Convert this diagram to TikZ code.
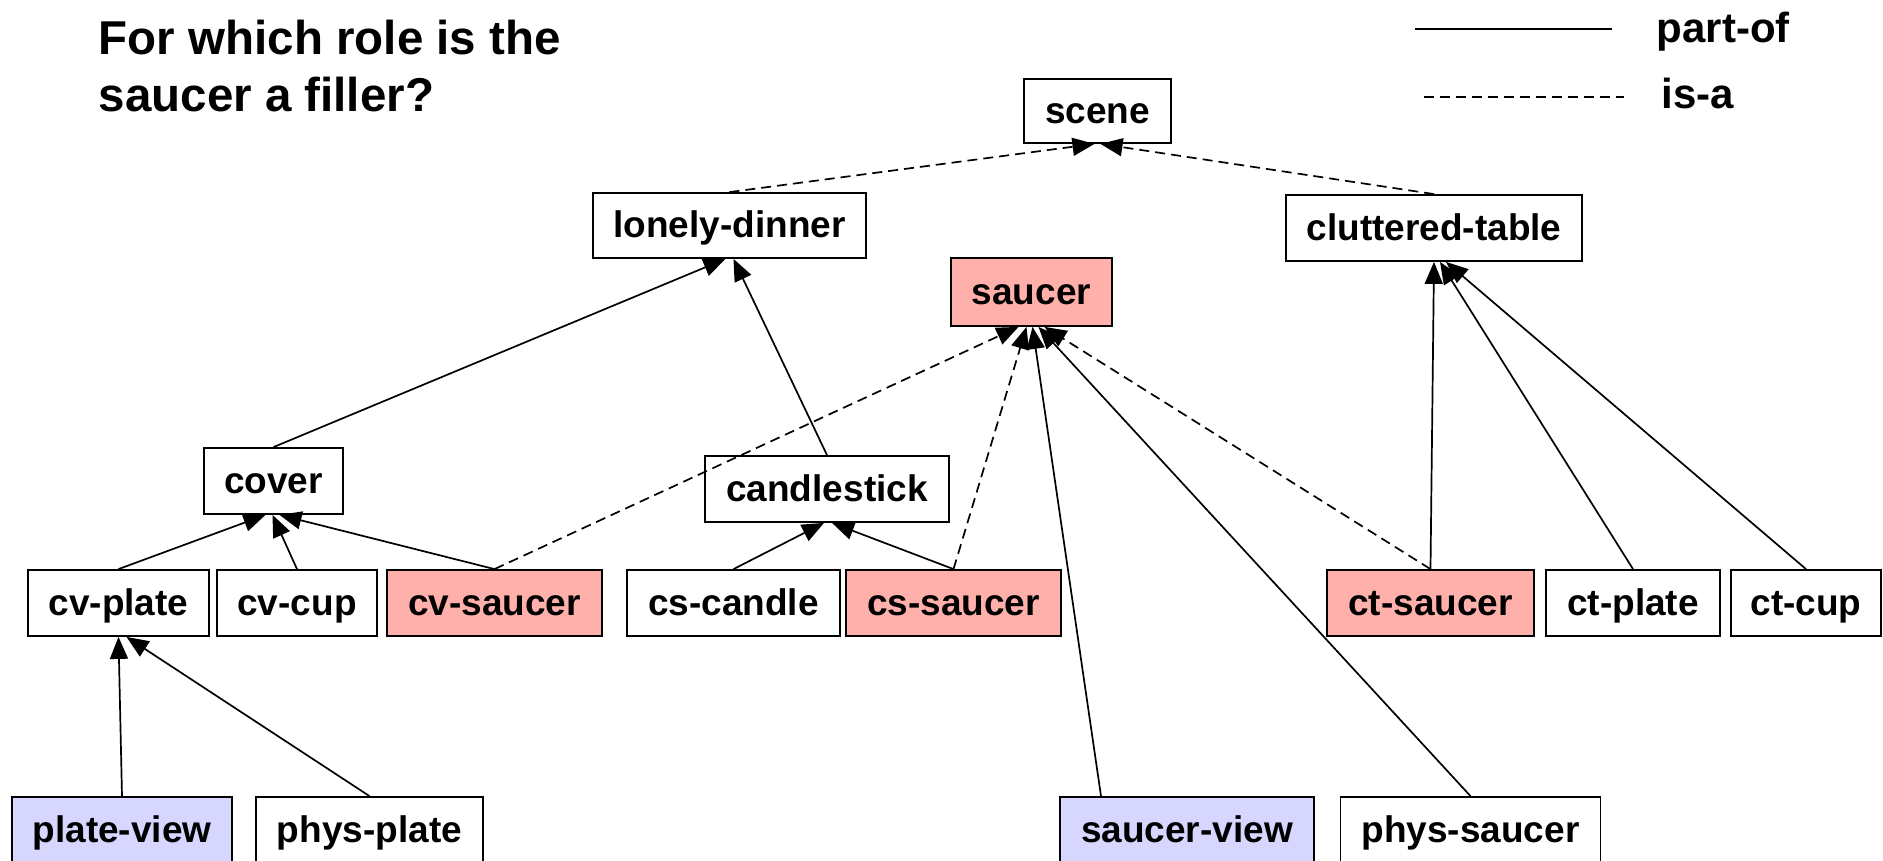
\documentclass[tikz,border=0pt]{standalone}
\usepackage{fontspec}
\setmainfont{Liberation Sans}
\usetikzlibrary{arrows.meta}
\definecolor{rolepink}{RGB}{255,176,170}
\definecolor{viewblue}{RGB}{214,214,255}

\begin{document}
\begin{tikzpicture}
  %[->,>=stealth',line width=1pt]
  [x=1pt,y=-1pt,->,>={Triangle[length=22pt,width=18pt]},line width=1.7pt,
   box/.style={draw,line width=1.8pt,inner sep=0pt,minimum height=66pt,text height=25pt,text depth=0pt,font=\fontsize{37}{44}\selectfont\bfseries},
   role/.style={box,fill=rolepink},
   view/.style={box,fill=viewblue},
   isa/.style={dash pattern=on 10pt off 6pt}]
  \useasboundingbox (0,0) rectangle (1883,861);

  \node[anchor=north west,inner sep=0pt,align=left,font=\fontsize{47.5}{57}\selectfont\bfseries] (ntitle) at (98,19) {For which role is the\\saucer a filler?};

  \coordinate (lpo1) at (1415,29);
  \coordinate (lpo2) at (1612,29);
  \coordinate (lisa1) at (1424,97);
  \coordinate (lisa2) at (1624,97);
  \draw[-,line width=2pt] (lpo1) -- (lpo2);
  \draw[-,isa] (lisa1) -- (lisa2);
  \node[anchor=base west,inner sep=0pt,font=\fontsize{42}{50}\selectfont\bfseries] (npo) at (1656,43) {part-of};
  \node[anchor=base west,inner sep=0pt,font=\fontsize{42}{50}\selectfont\bfseries] (nisa) at (1661,109) {is-a};

  \node[box,minimum width=147pt,minimum height=64pt] (nsc) at (1097.5,111) {scene};
  \node[box,minimum width=273pt,minimum height=65pt] (nld) at (729.5,225.5) {lonely-dinner};
  \node[box,minimum width=296pt] (nct) at (1434,228) {cluttered-table};
  \node[role,minimum width=161pt,minimum height=68pt] (nsau) at (1031.5,292) {saucer};
  \node[box,minimum width=139pt] (ncov) at (273.5,481) {cover};
  \node[box,minimum width=244pt] (ncst) at (827,489) {candlestick};

  \node[box,minimum width=181pt] (ncvp) at (118.5,603) {cv-plate};
  \node[box,minimum width=160pt] (ncvc) at (297,603) {cv-cup};
  \node[role,minimum width=215pt] (ncvs) at (494.5,603) {cv-saucer};
  \node[box,minimum width=213pt] (ncsc) at (733.5,603) {cs-candle};
  \node[role,minimum width=215pt] (ncss) at (953.5,603) {cs-saucer};
  \node[role,minimum width=207pt] (ncts) at (1430.5,603) {ct-saucer};
  \node[box,minimum width=174pt] (nctp) at (1633,603) {ct-plate};
  \node[box,minimum width=150pt] (nctc) at (1806,603) {ct-cup};

  \node[view,minimum width=220pt] (npv) at (122,830) {plate-view};
  \node[box,minimum width=227pt] (npp) at (369.5,830) {phys-plate};
  \node[view,minimum width=254pt] (nsv) at (1187,830) {saucer-view};
  \node[box,minimum width=260pt] (nps) at (1470.5,830) {phys-saucer};

  \path (nld.north) edge[isa] ([xshift=-3pt]nsc.south);
  \path (nct.north) edge[isa] ([xshift=3pt]nsc.south);
  \path (ncov.north) edge ([xshift=-4pt]nld.south);
  \path (ncst.north) edge ([xshift=4pt]nld.south);
  \path (ncvp.north) edge ([xshift=-8pt]ncov.south);
  \path (ncvc.north) edge ([xshift=-1pt]ncov.south);
  \path (ncvs.north) edge ([xshift=6pt]ncov.south);
  \path (ncvs.north) edge[isa] ([xshift=-13pt]nsau.south);
  \path (ncsc.north) edge ([xshift=-3pt]ncst.south);
  \path (ncss.north) edge ([xshift=5pt]ncst.south);
  \path (ncss.north) edge[isa] ([xshift=-5pt]nsau.south);
  \path (ncts.north) edge[isa] ([xshift=13pt]nsau.south);
  \path (ncts.north) edge (nct.south);
  \path (nctp.north) edge ([xshift=6pt]nct.south);
  \path (nctc.north) edge ([xshift=12pt]nct.south);
  \path (npv.north) edge (ncvp.south);
  \path (npp.north) edge ([xshift=8pt]ncvp.south);
  \path ([xshift=-86pt]nsv.north) edge ([xshift=1pt]nsau.south);
  \path (nps.north) edge ([xshift=7pt]nsau.south);

\end{tikzpicture}
\end{document}
